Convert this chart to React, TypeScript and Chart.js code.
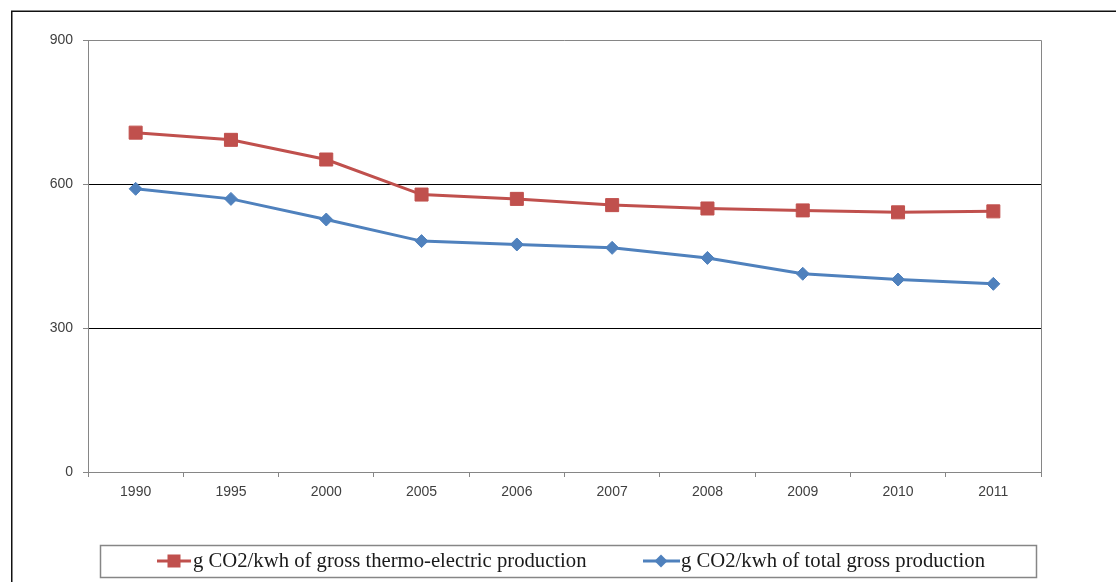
import { useEffect, useRef } from 'react';
import { Chart, registerables } from 'chart.js';

Chart.register(...registerables);

const years = ['1990', '1995', '2000', '2005', '2006', '2007', '2008', '2009', '2010', '2011'];
const thermoValues = [707, 692, 651, 578, 569, 556, 549, 545, 541, 543];
const totalValues = [590, 569, 526, 481, 474, 467, 446, 413, 401, 392];
const seriesLabels = [
  'g CO2/kwh of gross thermo-electric production',
  'g CO2/kwh of total gross production',
];
const yMin = 0;
const yMax = 900;
const yStep = 300;

const RED = '#C0504D';
const BLUE = '#4F81BD';
const AXIS = '#868686';

const framePlugin = {
  id: 'framePlugin',
  beforeDraw(chart: any) {
    const ctx = chart.ctx;
    ctx.save();
    ctx.fillStyle = '#ffffff';
    ctx.fillRect(0, 0, chart.width, chart.height);
    ctx.strokeStyle = '#111111';
    ctx.lineWidth = 1.5;
    ctx.strokeRect(11.75, 11.25, 1300, 1000);
    ctx.restore();
  },
  beforeDatasetsDraw(chart: any) {
    const ctx = chart.ctx;
    const a = chart.chartArea;
    ctx.save();
    ctx.strokeStyle = AXIS;
    ctx.lineWidth = 1;
    ctx.beginPath();
    ctx.moveTo(a.left, a.top + 0.5);
    ctx.lineTo(a.right + 0.5, a.top + 0.5);
    ctx.lineTo(a.right + 0.5, a.bottom);
    ctx.stroke();
    ctx.restore();
  },
  afterDraw(chart: any) {
    const ctx = chart.ctx;
    ctx.save();
    // legend box
    ctx.strokeStyle = AXIS;
    ctx.lineWidth = 1.5;
    ctx.strokeRect(100.5, 545.5, 936, 32);
    const cy = 561;
    ctx.font = '20.7px "Liberation Serif", "Times New Roman", serif';
    ctx.textBaseline = 'middle';
    ctx.fillStyle = '#1a1a1a';
    // item 1
    ctx.strokeStyle = RED;
    ctx.lineWidth = 3;
    ctx.beginPath();
    ctx.moveTo(157, cy);
    ctx.lineTo(191, cy);
    ctx.stroke();
    ctx.fillStyle = RED;
    ctx.fillRect(174 - 6.5, cy - 6.5, 13, 13);
    ctx.fillStyle = '#1a1a1a';
    ctx.fillText(seriesLabels[0], 193, cy + 1);
    // item 2
    ctx.strokeStyle = BLUE;
    ctx.beginPath();
    ctx.moveTo(643, cy);
    ctx.lineTo(680, cy);
    ctx.stroke();
    ctx.fillStyle = BLUE;
    ctx.beginPath();
    ctx.moveTo(661 - 6.5, cy);
    ctx.lineTo(661, cy - 6.5);
    ctx.lineTo(661 + 6.5, cy);
    ctx.lineTo(661, cy + 6.5);
    ctx.closePath();
    ctx.fill();
    ctx.fillStyle = '#1a1a1a';
    ctx.fillText(seriesLabels[1], 681, cy + 1);
    ctx.restore();
  },
};

export default function App() {
  const ref = useRef<HTMLCanvasElement | null>(null);

  useEffect(() => {
    if (!ref.current) return;
    const chart = new Chart(ref.current, {
      type: 'line',
      data: {
        labels: years,
        datasets: [
          {
            label: seriesLabels[0],
            data: thermoValues,
            borderColor: RED,
            backgroundColor: RED,
            borderWidth: 3,
            pointStyle: 'rect',
            pointRadius: 9.2,
            pointBorderWidth: 1,
            pointBorderColor: RED,
            pointBackgroundColor: RED,
            tension: 0,
          },
          {
            label: seriesLabels[1],
            data: totalValues,
            borderColor: BLUE,
            backgroundColor: BLUE,
            borderWidth: 3,
            pointStyle: 'rectRot',
            pointRadius: 6.5,
            pointBorderWidth: 1,
            pointBorderColor: BLUE,
            pointBackgroundColor: BLUE,
            tension: 0,
          },
        ],
      },
      options: {
        responsive: false,
        animation: false,
        layout: { padding: { left: 0, top: 40, right: 75, bottom: 0 } },
        plugins: {
          legend: { display: false },
          tooltip: { enabled: false },
          title: { display: false },
        },
        scales: {
          x: {
            type: 'category',
            offset: true,
            grid: {
              offset: true,
              drawOnChartArea: false,
              tickColor: AXIS,
              tickLength: 5,
              lineWidth: 1,
            },
            border: { display: true, color: AXIS, width: 1 },
            ticks: {
              color: '#404040',
              font: { family: '"Liberation Sans", Arial, sans-serif', size: 14 },
              padding: 7,
              maxRotation: 0,
              autoSkip: false,
            },
            afterFit(scale: any) {
              scale.height = 110;
            },
          },
          y: {
            min: yMin,
            max: yMax,
            ticks: {
              stepSize: yStep,
              color: '#404040',
              font: { family: '"Liberation Sans", Arial, sans-serif', size: 14 },
              padding: 10,
            },
            grid: {
              color: (ctx: any) =>
                ctx.tick && (ctx.tick.value === yMin || ctx.tick.value === yMax)
                  ? 'rgba(0,0,0,0)'
                  : '#000000',
              tickColor: AXIS,
              tickLength: 5,
              lineWidth: 1,
            },
            border: { display: true, color: AXIS, width: 1 },
            afterFit(scale: any) {
              scale.width = 88;
            },
          },
        },
      },
      plugins: [framePlugin],
    });
    return () => chart.destroy();
  }, []);

  return (
    <div style={{ position: 'absolute', left: 0, top: 0, width: 1116, height: 582 }}>
      <canvas ref={ref} width={1116} height={582} style={{ display: 'block' }} />
    </div>
  );
}
